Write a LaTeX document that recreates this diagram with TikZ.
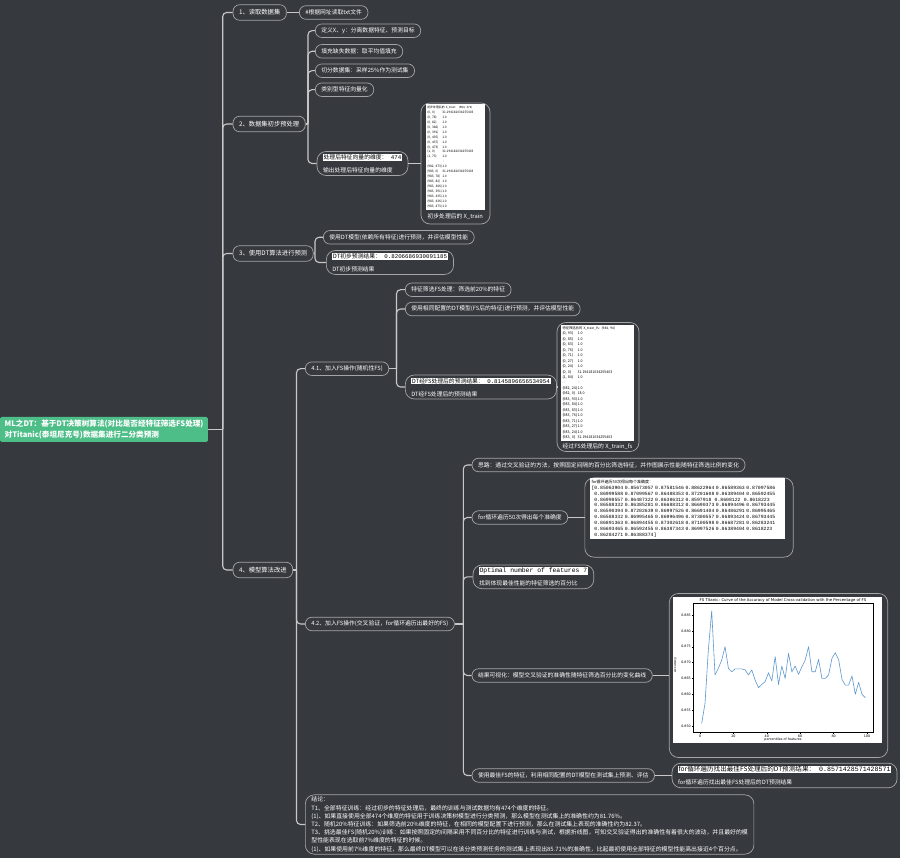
\documentclass[tikz,border=0pt]{standalone}
\usepackage{fontspec}
\setmainfont{Noto Sans CJK SC}
\setmonofont{Liberation Mono}
\newfontfamily\plotfont{DejaVu Sans}
\usetikzlibrary{positioning}

\definecolor{bgdark}{RGB}{54,57,62}
\definecolor{linegray}{RGB}{200,200,200}
\definecolor{rimgray}{RGB}{165,165,168}
\definecolor{rootgreen}{RGB}{78,190,137}
\definecolor{curveblue}{RGB}{92,152,205}

\newcommand{\hlt}[1]{{\setlength{\fboxsep}{0.6pt}\colorbox{white}{\textcolor{black}{#1}}}}
\newcommand{\spm}[2]{\makebox[15pt][l]{#1}#2}

\begin{document}
\begin{tikzpicture}[x=1pt, y=-1pt,
  topic/.style={draw=rimgray, line width=0.7pt, rounded corners=6.5pt, fill=bgdark,
    text=white, font=\fontsize{6.3}{7}\selectfont, inner xsep=6pt, inner ysep=1pt,
    minimum height=15.5pt, anchor=west},
  leaf/.style={topic, font=\fontsize{5.8}{7}\selectfont, minimum height=13.5pt},
  res/.style={leaf, align=left, rounded corners=9pt, inner ysep=2.5pt,
    font=\fontsize{5.8}{13}\selectfont},
  picbox/.style={draw=rimgray, line width=0.7pt, rounded corners=9pt, fill=bgdark},
  shot/.style={fill=white, text=black, align=left, inner sep=1.5pt, anchor=north},
  shotcap/.style={text=white, font=\fontsize{5.8}{7}\selectfont, inner sep=0pt},
  conn/.style={draw=linegray, line width=1.1pt, rounded corners=4pt}]

\useasboundingbox (0,0) rectangle (900,858);
\fill[bgdark] (0,0) rectangle (900,858);

% root and first level
\node[fill=rootgreen, text=white, rounded corners=1.5pt, anchor=west, align=left,
  inner xsep=4.5pt, inner ysep=1.5pt, minimum height=25pt,
  font=\bfseries\fontsize{7.6}{10.5}\selectfont] (root) at (0,429.5)
  {ML之DT：基于DT决策树算法(对比是否经特征筛选FS处理)\\对Titanic(泰坦尼克号)数据集进行二分类预测};
\node[topic] (read)    at (232.7,12.5) {1、读取数据集};
\node[topic] (prep)    at (232.7,124)  {2、数据集初步预处理};
\node[topic] (dtpred)  at (232.7,253.5) {3、使用DT算法进行预测};
\node[topic] (improve) at (232.7,570)  {4、模型算法改进};

\node[leaf] (readtxt) at (299,12.5) {\#根据网址读取txt文件};

% preprocessing
\node[leaf] (defxy)  at (315,30.7) {定义X、y：分离数据特征、预测目标};
\node[leaf] (fillna) at (315,51.3) {填充缺失数据：取平均值填充};
\node[leaf] (split)  at (315,70.7) {切分数据集：采样25\%作为测试集};
\node[leaf] (vec)    at (315,89.7) {类别型特征向量化};
\node[res]  (dim)    at (316.7,163.5) {\hlt{处理后特征向量的维度：\texttt{~474}}\\输出处理后特征向量的维度};

\node[picbox, minimum width=69pt, minimum height=121pt] (xtrbox) at (455.5,163.5) {};
\node[shot, text width=56pt, font=\fontsize{3.2}{4.95}\selectfont] (xtrain) at (455.3,104.3)
  {{\fontsize{2.9}{4.95}\selectfont 初步处理后的 X\_train:~ (984, 474)}\\
   \spm{(0, 0)}{31.194181034255403}\\ \spm{(0, 78)}{1.0}\\ \spm{(0, 82)}{1.0}\\
   \spm{(0, 366)}{1.0}\\ \spm{(0, 391)}{1.0}\\ \spm{(0, 435)}{1.0}\\
   \spm{(0, 437)}{1.0}\\ \spm{(0, 473)}{1.0}\\ \spm{(1, 0)}{31.194181034255403}\\
   \spm{(1, 73)}{1.0}\\ \spm{~:}{~:}\\ \spm{(982, 473)}{1.0}\\
   \spm{(983, 0)}{31.194181034255403}\\ \spm{(983, 78)}{1.0}\\ \spm{(983, 82)}{1.0}\\
   \spm{(983, 366)}{1.0}\\ \spm{(983, 391)}{1.0}\\ \spm{(983, 435)}{1.0}\\
   \spm{(983, 436)}{1.0}\\ \spm{(983, 473)}{1.0}};
\node[shotcap, below=4pt of xtrain] (xtrcap) {初步处理后的 X\_train};

% first prediction
\node[leaf] (dtall) at (323,237.3) {使用DT模型(依赖所有特征)进行预测，并评估模型性能};
\node[res]  (dtres) at (326,262.5) {\hlt{DT初步预测结果：\texttt{~0.8206686930091185}}\\DT初步预测结果};

% improvement
\node[leaf] (fsrand) at (305,368.7) {4.1、加入FS操作(随机性FS)};
\node[leaf] (fscv)   at (305,624)   {4.2、加入FS操作(交叉验证，for循环遍历出最好的FS)};

\node[leaf] (fs20)  at (405,289.7) {特征筛选FS处理：筛选前20\%的特征};
\node[leaf] (fsdt)  at (405,309)   {使用相同配置的DT模型(FS后的特征)进行预测，并评估模型性能};
\node[res]  (fsres) at (405,387)   {\hlt{DT经FS处理后的预测结果：\texttt{~0.8145896656534954}}\\DT经FS处理后的预测结果};

\node[picbox, minimum width=82pt, minimum height=129pt] (fsbox) at (598,387) {};
\node[shot, text width=70pt, font=\fontsize{3.6}{5.45}\selectfont] (xtrainfs) at (597.5,325)
  {{\fontsize{3.3}{5.45}\selectfont 特征筛选后的 X\_train\_fs: (984, 94)}\\
   \spm{(0, 93)}{1.0}\\ \spm{(0, 85)}{1.0}\\ \spm{(0, 83)}{1.0}\\ \spm{(0, 76)}{1.0}\\
   \spm{(0, 71)}{1.0}\\ \spm{(0, 27)}{1.0}\\ \spm{(0, 24)}{1.0}\\
   \spm{(0, 0)}{31.194181034255403}\\ \spm{(1, 84)}{1.0}\\ \spm{~:}{~:}\\
   \spm{(982, 24)}{1.0}\\ \spm{(982, 0)}{18.0}\\ \spm{(983, 93)}{1.0}\\
   \spm{(983, 84)}{1.0}\\ \spm{(983, 83)}{1.0}\\ \spm{(983, 76)}{1.0}\\
   \spm{(983, 71)}{1.0}\\ \spm{(983, 27)}{1.0}\\ \spm{(983, 24)}{1.0}\\
   \spm{(983, 0)}{31.194181034255403}};
\node[shotcap, below=3pt of xtrainfs] (fscap) {经过FS处理后的 X\_train\_fs};

% cross validation
\node[leaf] (idea) at (471.7,465) {思路：通过交叉验证的方法，按照固定间隔的百分比筛选特征，并作图展示性能随特征筛选比例的变化};
\node[leaf] (loop) at (471.7,517.5) {for循环遍历50次得出每个准确度};
\node[res]  (optn) at (472.7,576.8) {\hlt{\ttfamily\fontsize{6.4}{7}\selectfont Optimal number of features 7}\\找到体现最佳性能的特征筛选的百分比};
\node[leaf] (vis)  at (471.7,675.5) {结果可视化：模型交叉验证的准确性随特征筛选百分比的变化曲线};
\node[leaf] (best) at (471.7,775.5) {使用最佳FS的特征，利用相同配置的DT模型在测试集上预测、评估};
\node[res]  (bestres) at (671.7,775.5) {\hlt{\fontsize{6.6}{7.5}\selectfont for循环遍历找出最佳FS处理后的DT预测结果：\texttt{~0.8571428571428571}}\\for循环遍历找出最佳FS处理后的DT预测结果};

\node[picbox, minimum width=208.3pt, minimum height=79.3pt] (arrbox) at (689,517.5) {};
\node[shot, text width=192pt, font=\ttfamily\fontsize{4.8}{5.9}\selectfont] (accarr) at (687.5,478.3)
  {{\rmfamily\fontsize{4}{5.9}\selectfont for循环遍历50次得出每个准确度：}\\
   {[}0.85063904 0.85673057 0.87581546 0.88622964 0.86589363 0.87097586\\
   \phantom{[}0.86999588 0.87099567 0.86488353 0.87201608 0.86389404 0.86592455\\
   \phantom{[}0.86998557 0.86487322 0.86386312 0.8597918~ 0.8608122~ 0.8618223\\
   \phantom{[}0.86588332 0.86385281 0.86688312 0.86690373 0.86894496 0.86793445\\
   \phantom{[}0.86590394 0.87202639 0.86997526 0.86691404 0.86486291 0.86995465\\
   \phantom{[}0.86588332 0.86995465 0.86996496 0.87300557 0.86893424 0.86793445\\
   \phantom{[}0.86891363 0.86894455 0.87302618 0.87100598 0.86687281 0.86283241\\
   \phantom{[}0.86693465 0.86592455 0.86387343 0.86997526 0.86389404 0.8618223\\
   \phantom{[}0.86284271 0.86388374]};

\node[picbox, minimum width=218.4pt, minimum height=164pt] (chartbox) at (778.5,675.5) {};
\node[fill=white, minimum width=208.4pt, minimum height=146pt, inner sep=0pt] (chart) at (777.5,669.7) {};
\begin{scope}[shift={(700,726)}, x=1.67pt, y=3.171pt, font=\plotfont\fontsize{3.3}{4}\selectfont]
  \draw[line width=0.3pt] (-4.2,-1.9) rectangle (103.6,38.8);
  \foreach \t in {0,20,...,100}
    \draw[line width=0.3pt] (\t,-1.9) -- ++(0,-0.5) node[below, inner sep=0.8pt] (xt\t) {\t};
  \foreach \v/\lab in {0/0.850,5/0.855,10/0.860,15/0.865,20/0.870,25/0.875,30/0.880,35/0.885}
    \draw[line width=0.3pt] (-4.2,\v) -- ++(-0.8,0) node[left, inner sep=0.8pt] (yt\v) {\lab};
  \draw[curveblue, line width=0.6pt, line join=round] plot coordinates {
    (1,0.8) (3,7.1) (5,24.0) (7,36.3) (9,16.1) (11,18.2) (13,20.8) (15,25.0) (17,18.2)
    (19,17.1) (21,18.0) (23,18.0) (25,18.0) (27,17.7) (29,16.1) (31,17.7) (33,14.5)
    (35,12.1) (37,13.1) (39,14.0) (41,16.8) (43,14.2) (45,21.9) (47,13.1) (49,18.9)
    (51,15.0) (53,22.9) (55,17.1) (57,18.9) (59,16.3) (61,18.7) (63,20.8) (65,25.0)
    (67,17.1) (69,17.1) (71,21.0) (73,15.0) (75,15.0) (77,16.1) (79,21.3) (81,23.1)
    (83,21.0) (85,14.7) (87,12.9) (89,12.9) (91,15.8) (93,10.0) (95,13.8) (97,10.0) (99,8.9)};
  \node[above, inner sep=0.8pt, font=\plotfont\fontsize{3.9}{4.5}\selectfont] (ctitle) at (49.7,38.8)
    {FS Titanic: Curve of the Accuracy of Model Cross-validation with the Percentage of FS};
  \node (xlab) at (49.7,-4.2) {percentiles of features};
  \node[rotate=90] (ylab) at (-14.6,19.2) {accuracy};
\end{scope}

% conclusion
\node[leaf, align=left, rounded corners=9pt, inner ysep=2pt, font=\fontsize{5.9}{8.2}\selectfont] (summary) at (305,824.5)
  {结论：\\
   T1、全部特征训练：经过初步的特征处理后，最终的训练与测试数据均有474个维度的特征。\\
   (1)、如果直接使用全部474个维度的特征用于训练决策树模型进行分类预测，那么模型在测试集上的准确性约为81.76\%。\\
   T2、随机20\%特征训练：如果筛选前20\%维度的特征，在相同的模型配置下进行预测，那么在测试集上表现的准确性约为82.37。\\
   T3、挑选最佳FS(随机20\%)训练：如果按照固定的间隔采用不同百分比的特征进行训练与测试，根据折线图，可知交叉验证得出的准确性有着很大的波动，并且最好的模\\
   型性能表现在选取前7\%维度的特征的时候。\\
   (1)、如果使用前7\%维度的特征，那么最终DT模型可以在该分类预测任务的测试集上表现出85.71\%的准确性，比起最初使用全部特征的模型性能高出接近4个百分点。};

% connectors
\coordinate (tmain) at (222.7,429.5);
\draw[conn] (root.east) -- (tmain);
\foreach \n in {read,prep,dtpred,improve}
  \draw[conn] (tmain) |- (\n.west);
\draw[conn] (read.east) -- (readtxt.west);

\coordinate (tprep) at (308,124);
\draw[conn] (prep.east) -- (tprep);
\foreach \n in {defxy,fillna,split,vec,dim}
  \draw[conn] (tprep) |- (\n.west);
\draw[conn] (dim.east) -- (xtrbox.west);

\coordinate (tdt) at (315,253.5);
\draw[conn] (dtpred.east) -- (tdt);
\foreach \n in {dtall,dtres}
  \draw[conn] (tdt) |- (\n.west);

\coordinate (timp) at (296.5,570);
\draw[conn] (improve.east) -- (timp);
\foreach \n in {fsrand,fscv,summary}
  \draw[conn] (timp) |- (\n.west);

\coordinate (trand) at (396.5,368.7);
\draw[conn] (fsrand.east) -- (trand);
\foreach \n in {fs20,fsdt,fsres}
  \draw[conn] (trand) |- (\n.west);
\draw[conn] (fsres.east) -- (fsbox.west);

\coordinate (tcv) at (463.3,624);
\draw[conn] (fscv.east) -- (tcv);
\foreach \n in {idea,loop,optn,vis,best}
  \draw[conn] (tcv) |- (\n.west);
\draw[conn] (loop.east) -- (arrbox.west);
\draw[conn] (vis.east) -- (chartbox.west);
\draw[conn] (best.east) -- (bestres.west);
\end{tikzpicture}
\end{document}
